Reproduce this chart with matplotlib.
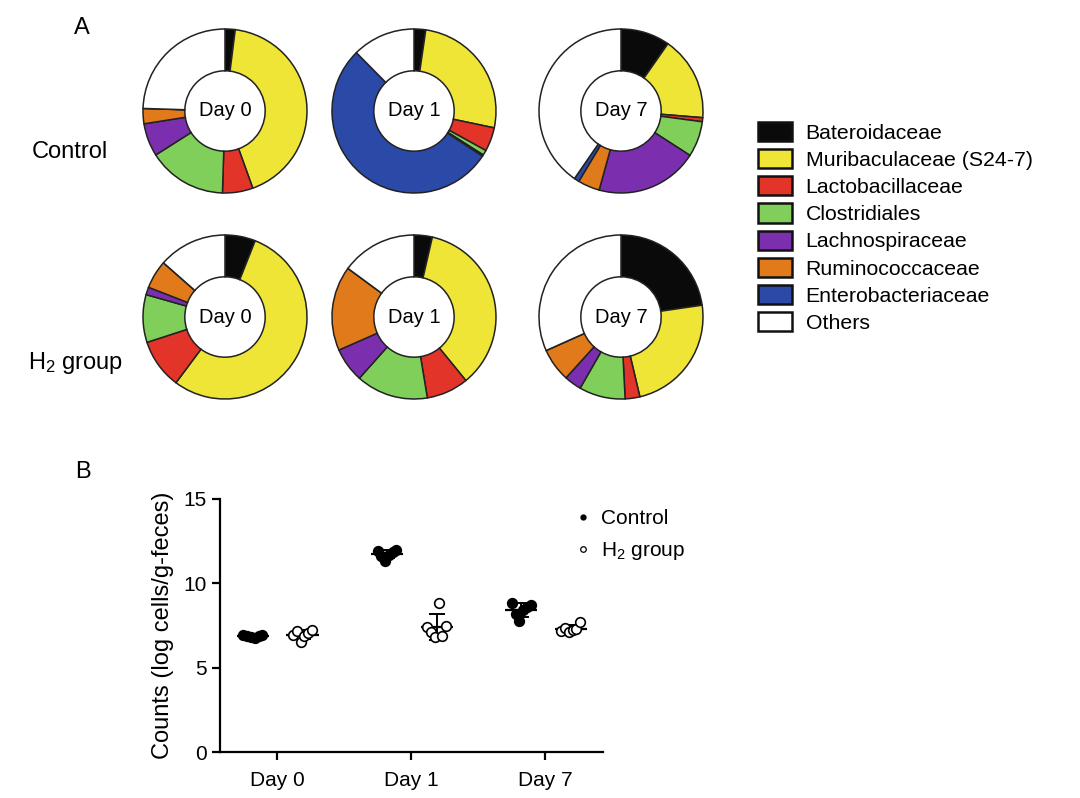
import numpy as np
import matplotlib
matplotlib.use('Agg')
import matplotlib.pyplot as plt
from matplotlib.patches import Patch
from matplotlib.lines import Line2D

plt.rcParams['font.family'] = ['Liberation Sans', 'DejaVu Sans']
plt.rcParams['mathtext.fontset'] = 'custom'
plt.rcParams['mathtext.rm'] = 'Liberation Sans'
plt.rcParams['mathtext.it'] = 'Liberation Sans'
plt.rcParams['mathtext.default'] = 'regular'

# ---- panel A data (percent of reads) ----
families = ['Bateroidaceae', 'Muribaculaceae (S24-7)', 'Lactobacillaceae', 'Clostridiales',
            'Lachnospiraceae', 'Ruminococcaceae', 'Enterobacteriaceae', 'Others']
family_colors = ['#0a0a0a', '#efe536', '#e3342a', '#80cf5a',
                 '#7b2fae', '#e07a1a', '#2b4aa8', '#ffffff']
days = ['Day 0', 'Day 1', 'Day 7']
groups = ['Control', 'H$_2$ group']

control_day0 = [2.0, 42.5, 6.0, 15.5, 6.5, 3.0, 0.0, 24.5]
control_day1 = [2.3, 26.0, 4.7, 1.0, 0.3, 0.0, 53.3, 12.4]
control_day7 = [9.7, 16.6, 0.8, 7.0, 20.2, 4.3, 1.0, 40.4]
h2_day0 = [6.0, 54.2, 9.8, 9.4, 1.5, 5.6, 0.0, 13.5]
h2_day1 = [3.6, 35.5, 8.3, 14.2, 6.8, 16.7, 0.0, 14.9]
h2_day7 = [22.7, 23.6, 2.9, 9.1, 3.4, 6.6, 0.0, 31.7]

# ---- panel B data (log cells / g feces) ----
ctrl_counts_day0 = [6.95, 6.85, 6.8, 6.75, 6.85, 6.95]
ctrl_counts_day1 = [11.9, 11.6, 11.35, 11.7, 11.85, 12.0]
ctrl_counts_day7 = [8.85, 8.2, 7.75, 8.4, 8.6, 8.7]
h2_counts_day0 = [6.95, 7.15, 6.5, 6.85, 7.05, 7.25]
h2_counts_day1 = [7.4, 7.1, 6.8, 8.85, 6.9, 7.45]
h2_counts_day7 = [7.15, 7.35, 7.1, 7.25, 7.3, 7.7]

W, H = 1080, 798
fig = plt.figure(figsize=(W / 100, H / 100), dpi=100)

def px_axes(x0, y0, w, h):
    # pixel box (top-left origin) -> figure axes
    return fig.add_axes([x0 / W, 1 - (y0 + h) / H, w / W, h / H])

# ---- donuts ----
pies = [[control_day0, control_day1, control_day7],
        [h2_day0, h2_day1, h2_day7]]
centers_x = [225, 414, 621]
centers_y = [111, 317]
r = 82
for i, row in enumerate(pies):
    for j, vals in enumerate(row):
        cx, cy = centers_x[j], centers_y[i]
        ax = px_axes(cx - r * 1.03, cy - r * 1.03, 2 * r * 1.03, 2 * r * 1.03)
        ax.pie(vals, colors=family_colors, startangle=90, counterclock=False,
               radius=1.0, wedgeprops=dict(width=0.51, edgecolor='#222222', linewidth=1.1))
        ax.set_xlim(-1.03, 1.03)
        ax.set_ylim(-1.03, 1.03)
        ax.text(0, 0, days[j], ha='center', va='center', fontsize=14.5)

fig.text(82 / W, 1 - 28 / H, 'A', fontsize=17, ha='center', va='center')
fig.text(70 / W, 1 - 152 / H, groups[0], fontsize=17, ha='center', va='center')
fig.text(76 / W, 1 - 363 / H, groups[1], fontsize=17, ha='center', va='center')

handles = [Patch(facecolor=c, edgecolor='#111111', linewidth=1.8) for c in family_colors]
fig.legend(handles, families, loc='upper left', bbox_to_anchor=(758 / W, 1 - 122 / H),
           frameon=False, fontsize=15.3, handlelength=1.62, handleheight=1.0,
           handletextpad=0.62, labelspacing=0.3, borderaxespad=0, borderpad=0)

# ---- panel B ----
fig.text(83 / W, 1 - 472 / H, 'B', fontsize=17, ha='center', va='center')
axb = px_axes(220, 499, 383, 253)
ctrl_all = [ctrl_counts_day0, ctrl_counts_day1, ctrl_counts_day7]
h2_all = [h2_counts_day0, h2_counts_day1, h2_counts_day7]
xpos = np.arange(len(days))
for k in range(len(days)):
    for vals, off, face in [(ctrl_all[k], -0.18, 'black'), (h2_all[k], 0.19, 'white')]:
        v = np.array(vals)
        xs = xpos[k] + off + np.linspace(-0.07, 0.07, len(v))
        m, sd = v.mean(), v.std(ddof=1)
        axb.hlines(m, xpos[k] + off - 0.12, xpos[k] + off + 0.12, color='black', lw=1.6, zorder=2)
        axb.errorbar(xpos[k] + off, m, yerr=sd, fmt='none', ecolor='black',
                     elinewidth=1.4, capsize=6, capthick=1.4, zorder=2)
        axb.scatter(xs, v, s=48, facecolor=face, edgecolor='black', linewidth=1.2, zorder=3)

axb.set_xlim(-0.425, 2.43)
axb.set_ylim(0, 15)
axb.set_yticks([0, 5, 10, 15])
axb.set_xticks(xpos)
axb.set_xticklabels(days)
axb.tick_params(labelsize=15, width=1.6, length=6)
axb.tick_params(axis='x', pad=8)
axb.spines['top'].set_visible(False)
axb.spines['right'].set_visible(False)
axb.spines['left'].set_linewidth(1.6)
axb.spines['bottom'].set_linewidth(1.6)
axb.set_ylabel('Counts (log cells/g-feces)', fontsize=17, labelpad=7)

leg_handles = [Line2D([], [], ls='none', marker='o', ms=3.5, mfc='black', mec='black'),
               Line2D([], [], ls='none', marker='o', ms=4, mfc='white', mec='black', mew=0.9)]
fig.legend(leg_handles, groups, loc='upper left', bbox_to_anchor=(573 / W, 1 - 509 / H),
           frameon=False, fontsize=15, handlelength=1.0, handletextpad=0.35,
           labelspacing=0.6, borderaxespad=0, borderpad=0)

fig.savefig('out.png', dpi=100)
